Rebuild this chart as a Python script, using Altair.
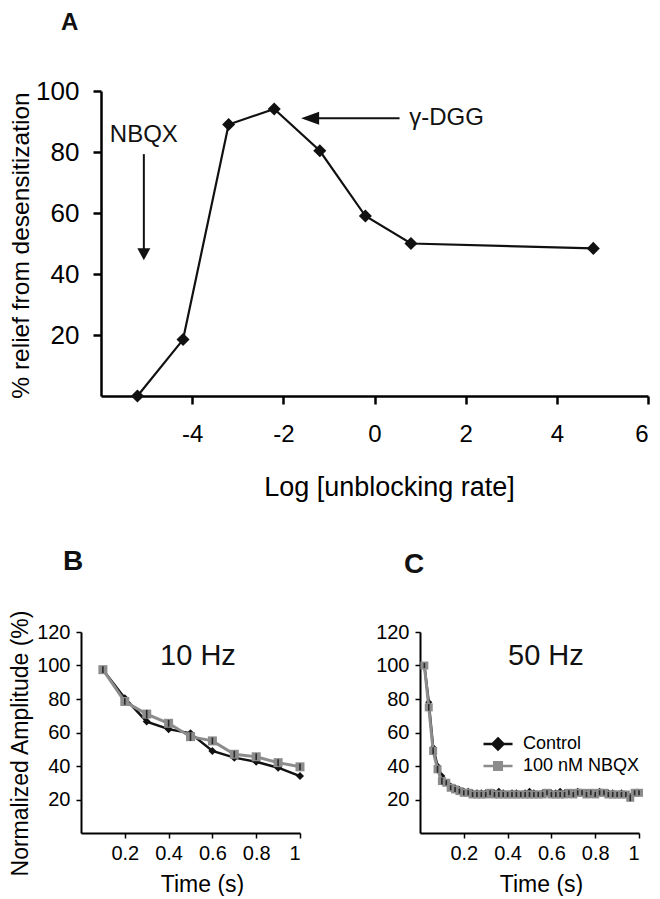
import altair as alt
import pandas as pd

FONT = "Liberation Sans"
BLACK = "#111111"
GRAY = "#8c8c8c"
ERR = "#2a2a2a"

# ---------------- Panel A data ----------------
a_log_rate = [-5.2, -4.2, -3.2, -2.2, -1.2, -0.2, 0.8, 4.8]
a_relief = [0.0, 18.5, 89.0, 94.1, 80.4, 59.0, 50.0, 48.4]
a_xticks = [-4, -2, 0, 2, 4, 6]
a_yticks = [20, 40, 60, 80, 100]

# annotation arrows / labels (data units)
nbqx_label = ["NBQX"]
nbqx_x = [-5.06]
nbqx_label_y = [85.6]
nbqx_shaft_y = [79.3]
nbqx_shaft_y2 = [47.0]
nbqx_tip_y = [44.5]

dgg_label = ["γ-DGG"]
dgg_y = [91.1]
dgg_label_x = [0.76]
dgg_shaft_x = [0.55]
dgg_shaft_x2 = [-1.3]
dgg_tip_x = [-1.61]

# ---------------- Panel B data (10 Hz) ----------------
b_time = [0.1, 0.2, 0.3, 0.4, 0.5, 0.6, 0.7, 0.8, 0.9, 1.0]
b_control = [97.5, 80.5, 66.5, 62.0, 59.5, 49.0, 45.0, 42.5, 39.0, 34.0]
b_nbqx = [97.5, 78.5, 71.0, 65.5, 57.5, 55.0, 47.0, 45.5, 42.0, 39.5]
b_nbqx_err = [2.0, 2.0, 2.5, 2.0, 2.5, 2.0, 2.0, 2.0, 2.0, 2.0]

# ---------------- Panel C data (50 Hz) ----------------
c_time = [round(0.02 * k, 2) for k in range(1, 51)]
c_control = [100, 78, 51, 40, 34, 30, 28, 27, 26, 25,
             25, 24, 24, 24, 24, 23, 24, 25, 24, 23,
             24, 24, 23, 24, 25, 24, 23, 24, 24, 24,
             24, 25, 24, 23, 24, 25, 24, 24, 23, 24,
             25, 24, 24, 24, 23, 24, 23, 22, 24, 24]
c_nbqx = [100, 75, 49, 38, 31, 30, 27, 26, 25, 24,
          24, 23, 23, 23, 23, 24, 23, 23, 23, 23,
          23, 23, 23, 23, 23, 23, 23, 23, 24, 23,
          23, 23, 23, 24, 23, 24, 24, 23, 24, 23,
          24, 24, 23, 23, 23, 23, 23, 21, 24, 24]
c_nbqx_err = [1.5, 2.0, 2.0, 2.0, 2.0, 1.5, 1.5, 1.5, 1.5, 1.5,
              1.5, 1.5, 1.5, 1.5, 1.5, 1.5, 1.5, 1.5, 1.5, 1.5,
              1.5, 1.5, 1.5, 1.5, 1.5, 1.5, 1.5, 1.5, 1.5, 1.5,
              1.5, 1.5, 1.5, 1.5, 1.5, 1.5, 1.5, 1.5, 1.5, 1.5,
              1.5, 1.5, 1.5, 1.5, 1.5, 1.5, 1.5, 2.0, 1.5, 1.5]

series = ["Control", "100 nM NBQX"]
series_colors = [BLACK, GRAY]
# legend glyphs: line with diamond / line with square
series_legend_shapes = ["M-2.9,0H2.9M0,-1.1L1.1,0L0,1.1L-1.1,0Z",
                        "M-2.9,0H2.9M-0.75,-0.75H0.75V0.75H-0.75Z"]
bc_xticks = [0.2, 0.4, 0.6, 0.8, 1.0]
bc_yticks = [20, 40, 60, 80, 100, 120]
freq_labels = ["10 Hz", "50 Hz"]
freq_label_x = [0.534, 0.575]
freq_label_y = [105.7, 105.7]

# ---------------- Panel A ----------------
dfA = pd.DataFrame({"x": a_log_rate, "y": a_relief})

xA = alt.X("x:Q", scale=alt.Scale(domain=[-6, 6], nice=False, zero=False),
           axis=alt.Axis(values=a_xticks, title="Log [unblocking rate]",
                         labelExpr="'' + datum.value",
                         labelFontSize=24, titleFontSize=27,
                         tickSize=8, tickWidth=2.5, domainWidth=2.5,
                         labelPadding=18, titlePadding=28, titleX=288,
                         titleAlign="center"))
yA = alt.Y("y:Q", scale=alt.Scale(domain=[0, 100], nice=False),
           axis=alt.Axis(values=a_yticks, title="% relief from desensitization",
                         labelFontSize=26, titleFontSize=24.5,
                         tickSize=8, tickWidth=2.5, domainWidth=2.5,
                         labelPadding=14, titleX=-68, titleY=154))

lineA = alt.Chart(dfA).mark_line(color=BLACK, strokeWidth=2.2).encode(x=xA, y=yA)
ptsA = alt.Chart(dfA).mark_point(shape="diamond", filled=True, size=170,
                                 color=BLACK, opacity=1).encode(x="x:Q", y="y:Q")

df_nbqx = pd.DataFrame({"label": nbqx_label, "x": nbqx_x, "y": nbqx_label_y,
                        "ys": nbqx_shaft_y, "ye": nbqx_shaft_y2, "yt": nbqx_tip_y})
nbqx_text = alt.Chart(df_nbqx).mark_text(font=FONT, fontSize=24, color=BLACK,
                                         align="center", baseline="middle").encode(
    x="x:Q", y="y:Q", text="label:N")
nbqx_shaft = alt.Chart(df_nbqx).mark_rule(color=BLACK, strokeWidth=2).encode(
    x="x:Q", y="ys:Q", y2="ye:Q")
nbqx_head = alt.Chart(df_nbqx).mark_point(shape="M0,0L-1,-1.85L1,-1.85Z", filled=True,
                                          size=169, color=BLACK, opacity=1).encode(
    x="x:Q", y="yt:Q")

df_dgg = pd.DataFrame({"label": dgg_label, "y": dgg_y, "xl": dgg_label_x,
                       "xs": dgg_shaft_x, "xe": dgg_shaft_x2, "xt": dgg_tip_x})
dgg_text = alt.Chart(df_dgg).mark_text(font=FONT, fontSize=24, color=BLACK,
                                       align="left", baseline="middle").encode(
    x="xl:Q", y="y:Q", text="label:N")
dgg_shaft = alt.Chart(df_dgg).mark_rule(color=BLACK, strokeWidth=2).encode(
    x="xs:Q", x2="xe:Q", y="y:Q")
dgg_head = alt.Chart(df_dgg).mark_point(shape="M0,0L2,-0.72L2,0.72Z", filled=True,
                                        size=324, color=BLACK, opacity=1).encode(
    x="xt:Q", y="y:Q")

panelA = alt.layer(lineA, ptsA, nbqx_shaft, nbqx_head, nbqx_text,
                   dgg_shaft, dgg_head, dgg_text).properties(
    width=547, height=305,
    title=alt.TitleParams("A", anchor="start", frame="group", dx=-40, offset=24,
                          fontSize=24, fontWeight="bold", font=FONT, color=BLACK,
                          baseline="alphabetic"))

# invisible spacer that lets panel A's plot area start to the right of panel B's
spacer = alt.Chart(pd.DataFrame({"v": [0]})).mark_point(opacity=0).encode(
    x=alt.value(0), y=alt.value(0)).properties(width=1, height=305)
row1 = alt.hconcat(spacer, panelA, spacing=19, bounds="flush")

# ---------------- Panels B / C ----------------
legendC = alt.Legend(
    title=None, orient="none", legendX=69, legendY=103,
    labelFont=FONT, labelFontSize=18, labelColor="black",
    symbolSize=100, labelOffset=16, rowPadding=2,
    symbolStrokeWidth=2.5, symbolOpacity=1)


def decay_panel(time, ctrl, nbqx, err, idx, letter, letter_dx, letter_offset,
                ytitle, dsize, ssize, with_legend):
    dfc = pd.DataFrame({"t": time, "amp": ctrl, "series": series[0]})
    dfn = pd.DataFrame({"t": time, "amp": nbqx, "err": err, "series": series[1]})
    dft = pd.DataFrame({"t": [freq_label_x[idx]], "amp": [freq_label_y[idx]],
                        "label": [freq_labels[idx]]})
    if ytitle:
        yaxis = alt.Axis(values=bc_yticks, labelFontSize=20, tickSize=5, tickWidth=1.5,
                         domainWidth=2, labelPadding=6, title=ytitle,
                         titleFontSize=23, titleX=-49, titleY=111)
    else:
        yaxis = alt.Axis(values=bc_yticks, labelFontSize=20, tickSize=5, tickWidth=1.5,
                         domainWidth=2, labelPadding=6, title=None)
    x = alt.X("t:Q", scale=alt.Scale(domain=[0, 1], nice=False),
              axis=alt.Axis(values=bc_xticks, format="~g", title="Time (s)",
                            labelFontSize=20, titleFontSize=23, tickSize=5,
                            tickWidth=1.5, domainWidth=2, labelPadding=5,
                            titlePadding=10, titleX=121, titleAlign="center"))
    y = alt.Y("amp:Q", scale=alt.Scale(domain=[0, 120], nice=False), axis=yaxis)
    cpts = alt.Chart(dfc).mark_point(shape="diamond", filled=True, size=dsize,
                                     color=BLACK, opacity=1).encode(x="t:Q", y="amp:Q")
    npts = alt.Chart(dfn).mark_point(shape="square", filled=True, size=ssize,
                                     color=GRAY, opacity=1).encode(x="t:Q", y="amp:Q")
    cline = alt.Chart(dfc).mark_line(color=BLACK, strokeWidth=2.5).encode(x=x, y=y)
    nline = alt.Chart(dfn).mark_line(color=GRAY, strokeWidth=3).encode(x="t:Q", y="amp:Q")
    nerr = alt.Chart(dfn).transform_calculate(
        lo="datum.amp - datum.err", hi="datum.amp + datum.err"
    ).mark_rule(color=ERR, strokeWidth=1.6).encode(x="t:Q", y="lo:Q", y2="hi:Q")
    txt = alt.Chart(dft).mark_text(font=FONT, fontSize=29, color=BLACK,
                                   align="center", baseline="middle").encode(
        x="t:Q", y="amp:Q", text="label:N")
    layers = [cline, cpts, nline, npts, nerr, txt]
    if with_legend:
        # legend-only layer: one entry per series, kept outside the plotted range and clipped
        dfl = pd.DataFrame({"t": [-0.5, -0.5], "amp": [50, 50], "series": series})
        leg = alt.Chart(dfl).mark_point(filled=True, size=100, opacity=1, clip=True,
                                        strokeWidth=2.5).encode(
            x="t:Q", y="amp:Q",
            fill=alt.Fill("series:N", scale=alt.Scale(domain=series, range=series_colors),
                          legend=legendC),
            stroke=alt.Stroke("series:N", scale=alt.Scale(domain=series, range=series_colors),
                              legend=legendC),
            shape=alt.Shape("series:N", scale=alt.Scale(domain=series, range=series_legend_shapes),
                            legend=legendC))
        layers.append(leg)
    return alt.layer(*layers).properties(
        width=219, height=201,
        title=alt.TitleParams(letter, anchor="start", frame="group", dx=letter_dx,
                              offset=letter_offset, fontSize=28, fontWeight="bold",
                              font=FONT, color=BLACK, baseline="alphabetic"))


panelB = decay_panel(b_time, b_control, b_nbqx, b_nbqx_err, 0, "B", -18, 11,
                     "Normalized Amplitude (%)", 64, 81, False)
panelC = decay_panel(c_time, c_control, c_nbqx, c_nbqx_err, 1, "C", -16, 21,
                     None, 49, 64, True)

row2 = alt.hconcat(panelB, panelC, spacing=69).resolve_scale(
    fill="independent", stroke="independent", shape="independent")

chart = alt.vconcat(row1, row2, spacing=48).properties(
    padding={"top": 3, "left": 0, "right": 0, "bottom": 0}
).resolve_scale(
    fill="independent", stroke="independent", shape="independent"
).configure_view(stroke=None).configure_axis(
    domainColor="black", tickColor="black", labelColor="black", titleColor="black",
    labelFont=FONT, titleFont=FONT, grid=False, titleFontWeight="normal"
)

chart.save("out.html", embed_options={"renderer": "svg", "actions": False})
